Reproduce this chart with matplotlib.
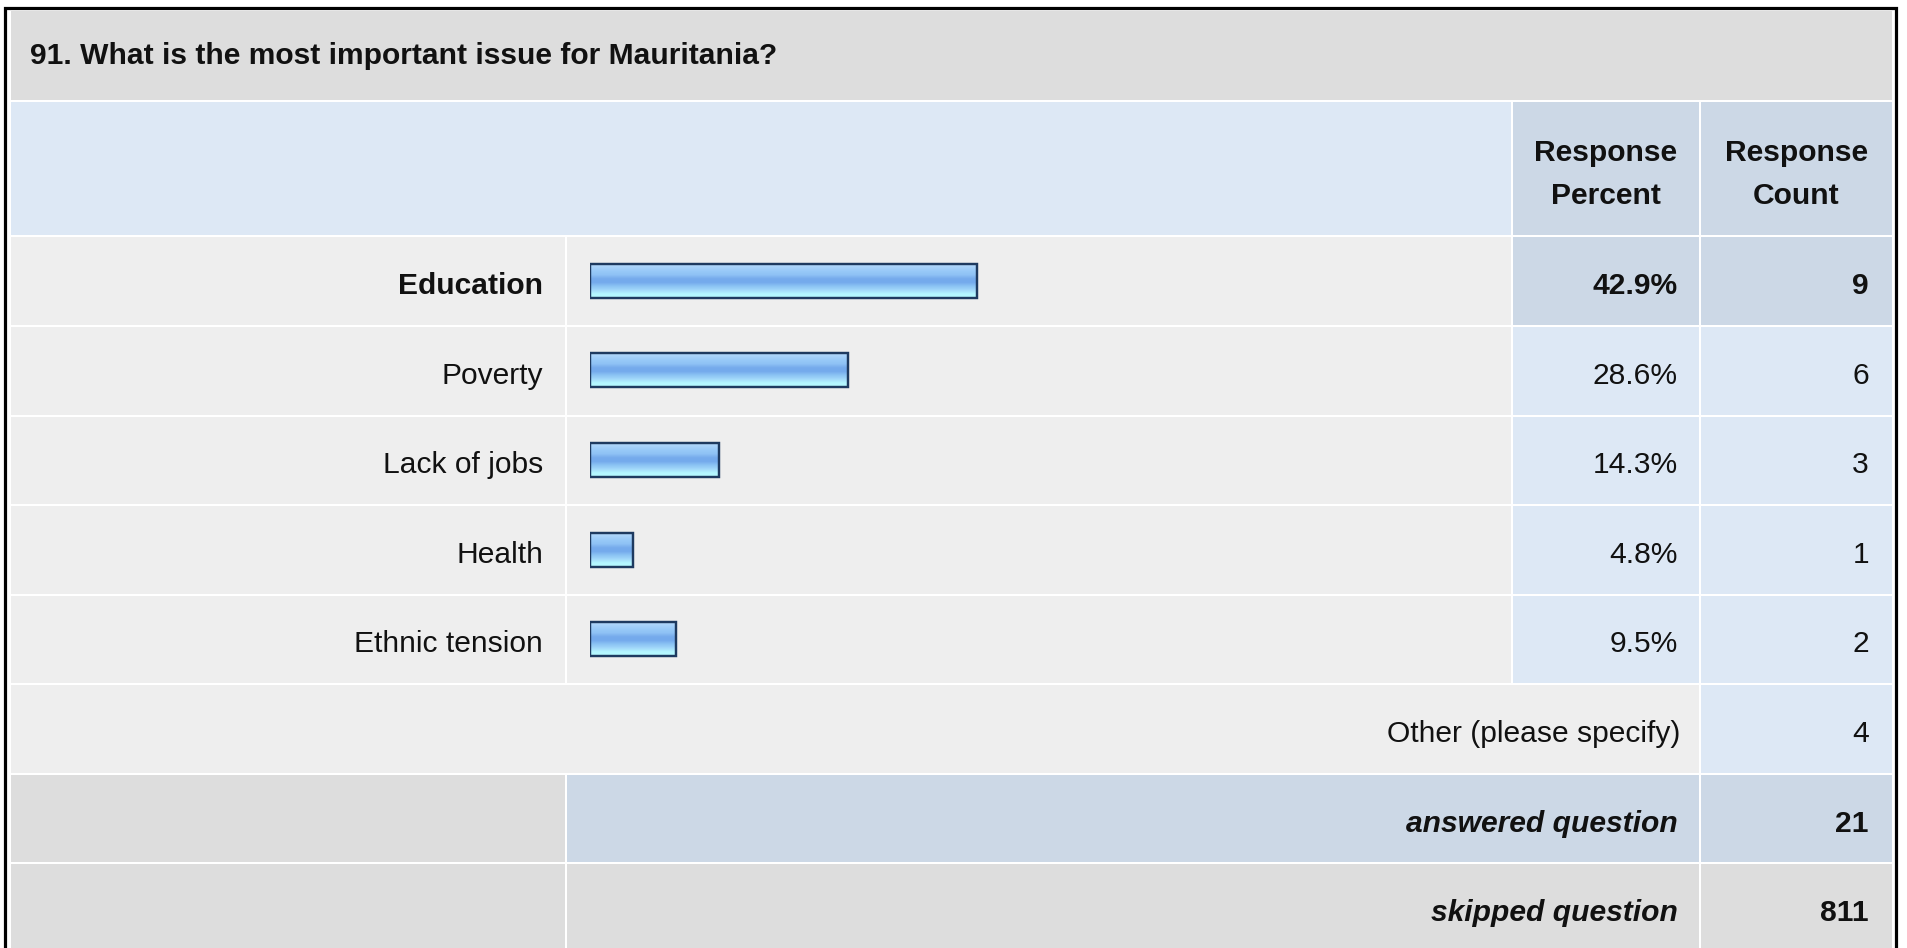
import numpy as np
import matplotlib
matplotlib.use("Agg")
import matplotlib.pyplot as plt
from matplotlib.patches import Rectangle
from matplotlib.colors import LinearSegmentedColormap

plt.rcParams['font.family'] = ['Liberation Sans', 'DejaVu Sans']

W, H = 1907, 948
FS = 21.6  # ~30 px at dpi 100

title = "91. What is the most important issue for Mauritania?"
answers = ["Education", "Poverty", "Lack of jobs", "Health", "Ethnic tension"]
percents = [42.9, 28.6, 14.3, 4.8, 9.5]
counts = [9, 6, 3, 1, 2]
other_label = "Other (please specify)"
other_count = 4
answered = 21
skipped = 811

GRAY = "#dddddd"
ROW = "#eeeeee"
LBLUE = "#dde8f5"
MBLUE = "#ccd8e6"

# column and row edges (pixels)
cx = [11, 566, 1511.5, 1700, 1893]
ry = [11, 101, 236, 326, 415.5, 505, 595, 684, 774, 863, 955]


def cell(ax, x0, x1, y0, y1, color):
    ax.add_patch(Rectangle((x0 + 1, y0 + 1), x1 - x0 - 2, y1 - y0 - 2,
                           facecolor=color, edgecolor='none', zorder=1))


def put(ax, x, y, s, ha='right', weight='normal', style='normal'):
    ax.text(x, y, s, ha=ha, va='center_baseline', fontsize=FS,
            fontweight=weight, fontstyle=style, color='#111111', zorder=5)


fig = plt.figure(figsize=(W / 100, H / 100), dpi=100)
ax = fig.add_axes([0, 0, 1, 1])
ax.set_xlim(0, W)
ax.set_ylim(H, 0)
ax.axis('off')

# outer border
ax.add_patch(Rectangle((4.5, 8), 1891, 960, facecolor='white',
                       edgecolor='black', linewidth=2.3, zorder=0))

# title band and header
cell(ax, cx[0] - 1, cx[4], ry[0] - 1, ry[1], GRAY)
put(ax, 30, 53, title, ha='left', weight='bold')
cell(ax, cx[0] - 1, cx[2], ry[1], ry[2], LBLUE)
cell(ax, cx[2], cx[3], ry[1], ry[2], MBLUE)
cell(ax, cx[3], cx[4], ry[1], ry[2], MBLUE)
for xc, (l1, l2) in [((cx[2] + cx[3]) / 2, ("Response", "Percent")),
                     ((cx[3] + cx[4]) / 2, ("Response", "Count"))]:
    put(ax, xc, 150, l1, ha='center', weight='bold')
    put(ax, xc, 193, l2, ha='center', weight='bold')

# answer rows
top = max(percents)
for i, (lab, p, c) in enumerate(zip(answers, percents, counts)):
    y0, y1 = ry[2 + i], ry[3 + i]
    ym = (y0 + y1) / 2 + 2
    hi = p == top
    cell(ax, cx[0] - 1, cx[1], y0, y1, ROW)
    cell(ax, cx[1], cx[2], y0, y1, ROW)
    cell(ax, cx[2], cx[3], y0, y1, MBLUE if hi else LBLUE)
    cell(ax, cx[3], cx[4], y0, y1, MBLUE if hi else LBLUE)
    w = 'bold' if hi else 'normal'
    put(ax, 543, ym, lab, weight=w)
    put(ax, 1678, ym, f"{p}%", weight=w)
    put(ax, 1869, ym, str(c), weight=w)

# other row
y0, y1 = ry[7], ry[8]
cell(ax, cx[0] - 1, cx[3], y0, y1, ROW)
cell(ax, cx[3], cx[4], y0, y1, LBLUE)
put(ax, 1680, (y0 + y1) / 2 + 2, other_label)
put(ax, 1869, (y0 + y1) / 2 + 2, str(other_count))

# answered / skipped
y0, y1 = ry[8], ry[9]
cell(ax, cx[0] - 1, cx[1], y0, y1, GRAY)
cell(ax, cx[1], cx[3], y0, y1, MBLUE)
cell(ax, cx[3], cx[4], y0, y1, MBLUE)
put(ax, 1678, (y0 + y1) / 2 + 2, "answered question", weight='bold', style='italic')
put(ax, 1869, (y0 + y1) / 2 + 2, str(answered), weight='bold')
y0, y1 = ry[9], ry[10]
cell(ax, cx[0] - 1, cx[1], y0, y1, GRAY)
cell(ax, cx[1], cx[3], y0, y1, GRAY)
cell(ax, cx[3], cx[4], y0, y1, GRAY)
put(ax, 1678, 910, "skipped question", weight='bold', style='italic')
put(ax, 1869, 910, str(skipped), weight='bold')

# bars
bx0, bw = 590, 903
bax = fig.add_axes([bx0 / W, (H - ry[7]) / H, bw / W, (ry[7] - ry[2]) / H])
bax.set_xlim(0, 100)
bax.set_ylim(len(answers) - 0.5, -0.5)
bax.axis('off')
bax.patch.set_alpha(0)

grad_cols = ['#bcdcfc', '#a8d2fa', '#98c9f8', '#8fc2f5', '#76abec', '#74aaec',
             '#8cc4f4', '#a2d8fa', '#b4f6ff', '#b6faff']
cmap = LinearSegmentedColormap.from_list('bar', grad_cols)
grad = np.linspace(0, 1, 64).reshape(-1, 1)
bh = 0.38
bars = bax.barh(range(len(answers)), percents, height=bh,
                color='#8ec0f4', edgecolor='none', zorder=1)
for i, (b, p) in enumerate(zip(bars, percents)):
    im = bax.imshow(grad, cmap=cmap, aspect='auto', zorder=2,
                    extent=[0, p, i + bh / 2, i - bh / 2], origin='upper')
    im.set_clip_path(b)
bax.barh(range(len(answers)), percents, height=bh, facecolor='none',
         edgecolor='#1e3a60', linewidth=1.75, zorder=3)
bax.set_xlim(0, 100)
bax.set_ylim(len(answers) - 0.5, -0.5)

fig.savefig("out.png", dpi=100)
